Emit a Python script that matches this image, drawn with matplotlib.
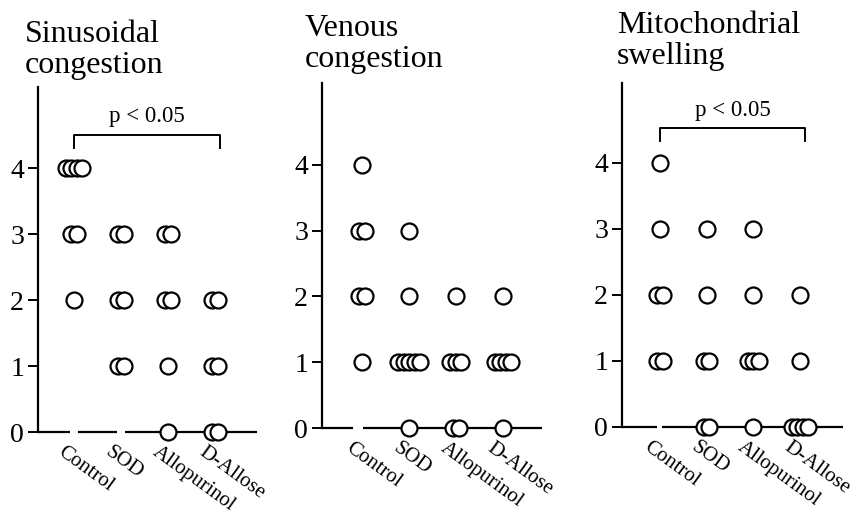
import matplotlib
matplotlib.use("Agg")
import matplotlib.pyplot as plt
from collections import Counter

W, H, DPI = 856, 519, 100

groups = ["Control", "SOD", "Allopurinol", "D-Allose"]
y_ticks = [0, 1, 2, 3, 4]
p_label = "p < 0.05"

# Histological scores, one entry per animal
sinusoidal_control = [4, 4, 4, 4, 3, 3, 2]
sinusoidal_sod = [3, 3, 2, 2, 1, 1]
sinusoidal_allopurinol = [3, 3, 2, 2, 1, 0]
sinusoidal_allose = [2, 2, 1, 1, 0, 0]

venous_control = [4, 3, 3, 2, 2, 1]
venous_sod = [3, 2, 1, 1, 1, 1, 1, 0]
venous_allopurinol = [2, 1, 1, 1, 0, 0]
venous_allose = [2, 1, 1, 1, 1, 0]

mito_control = [4, 3, 2, 2, 1, 1]
mito_sod = [3, 2, 1, 1, 0, 0]
mito_allopurinol = [3, 2, 1, 1, 1, 0]
mito_allose = [2, 1, 0, 0, 0, 0]

titles = ["Sinusoidal\ncongestion", "Venous\ncongestion", "Mitochondrial\nswelling"]
panel_scores = [
    [sinusoidal_control, sinusoidal_sod, sinusoidal_allopurinol, sinusoidal_allose],
    [venous_control, venous_sod, venous_allopurinol, venous_allose],
    [mito_control, mito_sod, mito_allopurinol, mito_allose],
]
significant = [True, False, True]

# Panel geometry in pixels: y-axis x, zero line y, px per score unit,
# axis top y, axis right x, first group x, group spacing, gaps in x-axis,
# title anchor, bracket levels
layout = [
    dict(ax_x=38, zero_y=432, unit=66, top_y=87, right_x=257, g0=74, step=47,
         segs=[(38, 70), (78, 117), (125, 257)], title=(25, 20),
         br=(4.3, 4.5, 4.78)),
    dict(ax_x=322, zero_y=428, unit=65.8, top_y=83, right_x=542, g0=362, step=47,
         segs=[(322, 353), (363, 542)], title=(305, 14), br=None),
    dict(ax_x=622, zero_y=427, unit=66, top_y=83, right_x=843, g0=660, step=46.7,
         segs=[(622, 657), (662, 843)], title=(617, 11),
         br=(4.33, 4.53, 4.8)),
]

plt.rcParams["font.family"] = ["Liberation Serif", "DejaVu Serif"]
fig = plt.figure(figsize=(W / DPI, H / DPI), dpi=DPI)
fig.patch.set_facecolor("white")

for scores, title, sig, L in zip(panel_scores, titles, significant, layout):
    left, right = L["ax_x"], L["right_x"]
    top, bottom = L["top_y"], L["zero_y"]
    ax = fig.add_axes([left / W, 1 - bottom / H, (right - left) / W, (bottom - top) / H])
    step, g0 = L["step"], L["g0"]
    to_x = lambda px: (px - g0) / step
    ax.set_xlim(to_x(left), to_x(right))
    ax.set_ylim(0, (bottom - top) / L["unit"])
    ax.patch.set_alpha(0)

    for s in ("top", "right", "bottom"):
        ax.spines[s].set_visible(False)
    ax.spines["left"].set_linewidth(1.6)
    ax.set_xticks([])
    ax.set_yticks(y_ticks)
    ax.tick_params(axis="y", direction="out", length=7, width=1.4,
                   labelsize=20, pad=3)

    # broken baseline
    for a, b in L["segs"]:
        ax.plot([to_x(a), to_x(b)], [0, 0], color="black", lw=1.6,
                clip_on=False, zorder=2, solid_capstyle="butt")

    # scores: repeated values are shifted sideways so each circle shows
    dx = 5.5 / step
    for gi, vals in enumerate(scores):
        counts = Counter(vals)
        for v, n in counts.items():
            xs = [gi + (k - (n - 1) / 2) * dx for k in range(n)]
            ax.plot(xs, [v] * n, "o", ms=11.5, mfc="white", mec="black",
                    mew=1.6, clip_on=False, zorder=4, ls="none")

    # group labels
    for gi, g in enumerate(groups):
        ax.annotate(g, xy=(gi, 0), xytext=(-6, -8), textcoords="offset points",
                    rotation=-36, rotation_mode="anchor", ha="left", va="top",
                    fontsize=15, annotation_clip=False)

    if sig and L["br"]:
        lo, hi, ty = L["br"]
        x1 = 3 + 0.1
        ax.plot([0, 0, x1, x1], [lo, hi, hi, lo], color="black", lw=1.4,
                clip_on=False)
        ax.text(x1 / 2, ty, p_label, ha="center", va="center", fontsize=16.5)

    tx, ty_px = L["title"]
    fig.text(tx / W, 1 - ty_px / H, title, ha="left", va="top", fontsize=23,
             linespacing=1.1)

fig.savefig("out.png", dpi=DPI, facecolor="white")
